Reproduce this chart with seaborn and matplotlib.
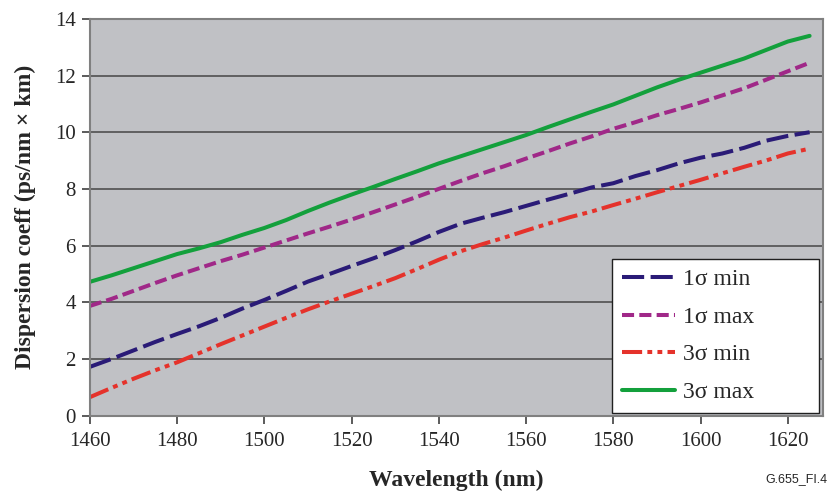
import numpy as np
import pandas as pd
import matplotlib
matplotlib.use("Agg")
import matplotlib.pyplot as plt
import seaborn as sns

WAVELENGTH = [1460, 1465, 1470, 1475, 1480, 1485, 1490, 1495, 1500, 1505, 1510, 1515,
              1520, 1525, 1530, 1535, 1540, 1545, 1550, 1555, 1560, 1565, 1570, 1575,
              1580, 1585, 1590, 1595, 1600, 1605, 1610, 1615, 1620, 1625]

SIG1_MIN = [1.72, 2.00, 2.30, 2.60, 2.88, 3.15, 3.45, 3.78, 4.08, 4.40, 4.73, 5.00,
            5.28, 5.55, 5.84, 6.15, 6.48, 6.77, 6.98, 7.18, 7.40, 7.62, 7.83, 8.05,
            8.20, 8.45, 8.66, 8.90, 9.10, 9.25, 9.45, 9.70, 9.87, 10.00]
SIG1_MAX = [3.87, 4.12, 4.40, 4.68, 4.95, 5.20, 5.45, 5.68, 5.93, 6.18, 6.43, 6.67,
            6.92, 7.18, 7.45, 7.72, 8.00, 8.28, 8.55, 8.80, 9.07, 9.33, 9.60, 9.85,
            10.12, 10.35, 10.60, 10.82, 11.05, 11.30, 11.55, 11.85, 12.15, 12.45]
SIG3_MIN = [0.65, 0.98, 1.30, 1.60, 1.88, 2.20, 2.52, 2.83, 3.14, 3.45, 3.75, 4.03,
            4.30, 4.57, 4.85, 5.17, 5.50, 5.80, 6.05, 6.28, 6.53, 6.77, 7.00, 7.20,
            7.43, 7.65, 7.88, 8.10, 8.32, 8.55, 8.78, 9.00, 9.25, 9.42]
SIG3_MAX = [4.72, 4.95, 5.20, 5.45, 5.70, 5.90, 6.12, 6.38, 6.62, 6.90, 7.22, 7.52,
            7.80, 8.07, 8.35, 8.62, 8.90, 9.15, 9.40, 9.65, 9.90, 10.18, 10.45, 10.72,
            10.98, 11.28, 11.58, 11.85, 12.10, 12.35, 12.60, 12.90, 13.20, 13.40]

SERIES = ["1σ min", "1σ max", "3σ min", "3σ max"]
COLORS = ["#2A1B77", "#A02888", "#E5322B", "#13A03C"]
DASHES = [(0, (5.5, 1.6)), (0, (3.0, 1.3)), (0, (5.0, 1.3, 1.2, 1.3, 1.2, 1.3)), "-"]

df = pd.DataFrame({
    "wavelength": WAVELENGTH * 4,
    "value": SIG1_MIN + SIG1_MAX + SIG3_MIN + SIG3_MAX,
    "series": [s for s in SERIES for _ in WAVELENGTH],
})

sns.set_theme(style="white")
plt.rcParams["font.family"] = ["Liberation Serif", "DejaVu Serif"]

fig = plt.figure(figsize=(8.31, 4.96), dpi=100)
ax = fig.add_axes([0.108, 0.162, 0.882, 0.8])
ax.set_facecolor("#C0C1C5")

for name, color, ls in zip(SERIES, COLORS, DASHES):
    sub = df[df["series"] == name]
    sns.lineplot(data=sub, x="wavelength", y="value", ax=ax, color=color,
                 linestyle=ls, linewidth=2.9, label=name)

ax.set_xlim(1460, 1628)
ax.set_ylim(0, 14)
ax.set_xticks(np.arange(1460, 1621, 20))
ax.set_yticks(np.arange(0, 15, 2))
ax.grid(axis="y", color="#505050", linewidth=1.2)
ax.grid(axis="x", visible=False)
ax.set_axisbelow(True)

for sp in ax.spines.values():
    sp.set_color("#808080")
    sp.set_linewidth(1.5)
ax.tick_params(axis="both", which="major", labelsize=15, direction="out",
               length=6, width=1.2, color="#404040", bottom=True, left=True)
ax.tick_params(axis="x", pad=6)
ax.tick_params(axis="y", pad=4)

ax.set_xlabel("Wavelength (nm)", fontsize=17, fontweight="bold", labelpad=13)
ax.set_ylabel("Dispersion coeff (ps/nm × km)", fontsize=17, fontweight="bold", labelpad=14)

leg = ax.legend(loc="lower left", bbox_to_anchor=(0.7127, 0.007, 0.2823, 0.39),
                mode="expand", fontsize=17, frameon=True, fancybox=False,
                framealpha=1, edgecolor="#202020", handlelength=2.25,
                labelspacing=0.68, borderpad=0.42, handletextpad=0.35,
                borderaxespad=0)
leg.get_frame().set_linewidth(1.0)
leg.get_frame().set_facecolor("white")

fig.text(0.996, 0.035, "G.655_FI.4", ha="right", va="center", fontsize=9,
         family=["Liberation Sans", "DejaVu Sans"])

fig.savefig("out.png", dpi=100)
